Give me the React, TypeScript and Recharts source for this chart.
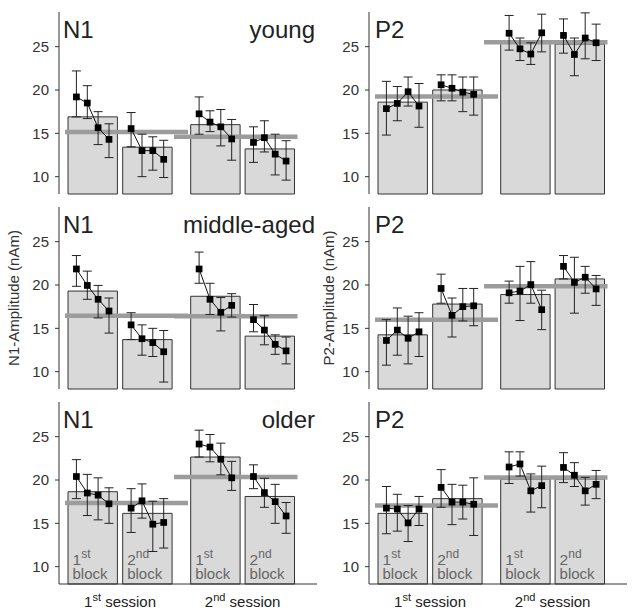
import { ComposedChart, Scatter, Line, XAxis, YAxis, ZAxis, ErrorBar, ReferenceArea } from 'recharts';

// ---- data (nAm) ----
const COMPONENTS = ['N1', 'P2'];
const GROUPS = ['young', 'middle-aged', 'older'];
const SESSION_LABELS = [['1', 'st', ' session'], ['2', 'nd', ' session']];
const BLOCK_LABELS = [['1', 'st', 'block'], ['2', 'nd', 'block'], ['1', 'st', 'block'], ['2', 'nd', 'block']];

const N1_YOUNG_BARS = [16.9, 13.4, 16.0, 13.2];
const N1_YOUNG_MEANS = [15.15, 14.6];
const N1_YOUNG_PTS = [[19.2, 18.5, 15.65, 14.3], [15.55, 13.0, 13.0, 12.0], [17.25, 16.3, 15.75, 14.35], [13.95, 14.5, 12.6, 11.8]];
const N1_YOUNG_HI = [[22.2, 20.5, 17.5, 16.1], [17.4, 14.9, 14.6, 14.2], [19.2, 17.6, 17.75, 16.6], [15.75, 16.45, 14.9, 14.15]];
const N1_YOUNG_LO = [[16.9, 16.7, 13.7, 12.2], [13.45, 10.0, 10.75, 9.9], [14.9, 15.2, 13.55, 11.9], [11.65, 12.85, 10.2, 9.6]];

const P2_YOUNG_BARS = [18.6, 20.0, 25.4, 25.3];
const P2_YOUNG_MEANS = [19.25, 25.5];
const P2_YOUNG_PTS = [[17.85, 18.45, 19.8, 18.15], [20.6, 20.2, 19.75, 19.5], [26.55, 24.75, 24.15, 26.6], [26.3, 24.1, 26.0, 25.45]];
const P2_YOUNG_HI = [[21.0, 20.4, 21.5, 20.75], [21.75, 21.75, 21.5, 21.5], [28.6, 26.0, 25.45, 28.75], [28.2, 26.0, 28.9, 27.6]];
const P2_YOUNG_LO = [[14.8, 16.45, 18.15, 15.7], [18.75, 18.75, 17.5, 17.1], [24.6, 23.4, 22.95, 24.4], [24.25, 21.65, 23.6, 23.4]];

const N1_MIDDLE_BARS = [19.3, 13.7, 18.7, 14.1];
const N1_MIDDLE_MEANS = [16.45, 16.4];
const N1_MIDDLE_PTS = [[21.85, 19.95, 18.35, 17.0], [15.4, 13.8, 13.35, 12.3], [21.85, 18.35, 16.85, 17.65], [16.0, 14.8, 13.15, 12.4]];
const N1_MIDDLE_HI = [[23.4, 21.6, 19.95, 18.5], [16.8, 15.4, 15.0, 14.75], [23.8, 20.2, 18.55, 19.0], [17.75, 16.45, 14.25, 14.0]];
const N1_MIDDLE_LO = [[19.85, 18.35, 16.2, 14.45], [13.7, 11.9, 11.75, 8.8], [20.2, 16.6, 14.7, 16.3], [14.6, 13.1, 12.0, 10.9]];

const P2_MIDDLE_BARS = [14.25, 17.8, 18.9, 20.7];
const P2_MIDDLE_MEANS = [16.0, 19.85];
const P2_MIDDLE_PTS = [[13.6, 14.8, 13.85, 14.6], [19.6, 16.5, 17.5, 17.6], [19.1, 19.3, 20.05, 17.15], [22.15, 20.3, 20.9, 19.55]];
const P2_MIDDLE_HI = [[16.0, 17.35, 16.4, 16.8], [21.25, 18.5, 19.6, 19.6], [20.45, 22.15, 22.7, 19.4], [23.4, 23.2, 22.15, 21.1]];
const P2_MIDDLE_LO = [[10.75, 11.9, 10.9, 11.75], [17.9, 14.0, 15.85, 15.3], [17.9, 15.9, 17.9, 14.85], [20.7, 16.75, 19.05, 17.65]];

const N1_OLDER_BARS = [18.65, 16.15, 22.65, 18.1];
const N1_OLDER_MEANS = [17.35, 20.35];
const N1_OLDER_PTS = [[20.4, 18.5, 18.25, 17.25], [16.75, 17.6, 14.9, 15.1], [24.15, 23.8, 22.4, 20.25], [20.4, 18.55, 17.5, 15.85]];
const N1_OLDER_HI = [[22.35, 20.65, 20.25, 19.1], [19.0, 19.55, 17.55, 17.85], [25.75, 25.25, 24.25, 22.15], [21.75, 20.2, 19.5, 17.4]];
const N1_OLDER_LO = [[17.85, 15.9, 15.4, 15.0], [13.95, 15.6, 11.75, 12.15], [22.65, 22.1, 20.6, 18.8], [19.0, 16.85, 15.0, 13.85]];

const P2_OLDER_BARS = [16.15, 17.85, 20.1, 20.1];
const P2_OLDER_MEANS = [17.05, 20.3];
const P2_OLDER_PTS = [[16.75, 16.65, 15.05, 16.65], [19.15, 17.45, 17.45, 17.2], [21.5, 21.85, 18.75, 19.35], [21.45, 20.55, 18.75, 19.5]];
const P2_OLDER_HI = [[19.25, 18.35, 17.05, 18.1], [21.2, 19.5, 19.4, 20.25], [23.25, 23.25, 20.7, 21.6], [23.15, 22.0, 20.3, 21.1]];
const P2_OLDER_LO = [[13.8, 14.1, 12.9, 14.75], [16.85, 14.85, 15.5, 13.6], [19.6, 20.45, 16.3, 16.8], [19.7, 19.25, 17.1, 17.85]];

const Y_TICKS = [10, 15, 20, 25];

// ---- layout (x in plot units, 1 unit = 1px) ----
const X_MAX = 258;
const BAR_CENTER = [33.7, 88.4, 156.4, 210.8];
const BAR_W = 49.4;
const PT_OFFSET = [-16.3, -5.4, 5.4, 16.3];
const MEAN_SPAN = [[6, 129], [115, 238.5]];
const SESSION_CENTER = [(BAR_CENTER[0] + BAR_CENTER[1]) / 2, (BAR_CENTER[2] + BAR_CENTER[3]) / 2];
const FONT = '"Liberation Sans", Arial, Helvetica, sans-serif';

const SessionTick = (props: any) => {
  const { x, y, payload } = props;
  const idx = payload && payload.value > X_MAX / 2 ? 1 : 0;
  const [a, sup, rest] = SESSION_LABELS[idx];
  return (
    <text x={x} y={y + 23} textAnchor="middle" fontSize={15} fill="#222">
      <tspan>{a}</tspan>
      <tspan dy={-6.5} fontSize={11}>{sup}</tspan>
      <tspan dy={6.5}>{rest}</tspan>
    </text>
  );
};

const blockLabel = (b: number) => (props: any) => {
  const vb = props.viewBox || {};
  const [a, sup, word] = BLOCK_LABELS[b];
  const x = vb.x + 4.5;
  const bottom = vb.y + vb.height;
  return (
    <g>
      <text x={x} y={bottom - 19} fontSize={15.5} fill="#666">
        <tspan>{a}</tspan>
        <tspan dy={-7.5} fontSize={12}>{sup}</tspan>
      </text>
      <text x={x} y={bottom - 4.7} fontSize={15} fill="#666">{word}</text>
    </g>
  );
};

interface PanelProps {
  bars: number[];
  means: number[];
  pts: number[][];
  hi: number[][];
  lo: number[][];
  bottom?: boolean;
  yLabel?: string;
  yLabelOffset?: number;
}

const Panel = ({ bars, means, pts, hi, lo, bottom, yLabel, yLabelOffset }: PanelProps) => {
  const blocks = pts.map((vals, b) =>
    vals.map((v, i) => ({ x: BAR_CENTER[b] + PT_OFFSET[i], y: v, err: [v - lo[b][i], hi[b][i] - v] }))
  );
  const meanLines = means.map((m, s) => [{ x: MEAN_SPAN[s][0], y: m }, { x: MEAN_SPAN[s][1], y: m }]);

  return (
    <ComposedChart
      width={320}
      height={bottom ? 224 : 195}
      margin={{ top: 12, right: 3, bottom: bottom ? 0 : 1, left: 0 }}
    >
      <XAxis
        type="number"
        dataKey="x"
        domain={[0, X_MAX]}
        allowDataOverflow
        ticks={bottom ? SESSION_CENTER : []}
        interval={0}
        tick={bottom ? <SessionTick /> : false}
        tickLine={false}
        tickSize={0}
        tickMargin={0}
        height={bottom ? 30 : 0}
        axisLine={{ stroke: '#333' }}
      />
      <YAxis
        type="number"
        dataKey="y"
        domain={[8, 29]}
        allowDataOverflow
        ticks={Y_TICKS}
        interval={0}
        width={59}
        tickSize={4}
        tickMargin={6}
        tick={{ fontSize: 15, fill: '#333' }}
        axisLine={{ stroke: '#333' }}
        tickLine={{ stroke: '#333' }}
        label={
          yLabel
            ? {
                value: yLabel,
                angle: -90,
                position: 'insideLeft',
                offset: yLabelOffset,
                style: { textAnchor: 'middle', fill: '#333', fontSize: 15 },
              }
            : undefined
        }
      />
      <ZAxis range={[45, 45]} />
      {bars.map((v, b) => (
        <ReferenceArea
          key={'bar' + b}
          x1={BAR_CENTER[b] - BAR_W / 2}
          x2={BAR_CENTER[b] + BAR_W / 2}
          y1={8}
          y2={v}
          fill="#d9d9d9"
          fillOpacity={1}
          stroke="#333"
          strokeWidth={1}
          label={bottom ? blockLabel(b) : undefined}
        />
      ))}
      {meanLines.map((d, s) => (
        <Line
          key={'mean' + s}
          data={d}
          dataKey="y"
          stroke="#9c9c9c"
          strokeWidth={4.5}
          dot={false}
          activeDot={false}
          isAnimationActive={false}
        />
      ))}
      {blocks.map((d, b) => (
        <Scatter
          key={'blk' + b}
          data={d}
          dataKey="y"
          shape="square"
          fill="#000"
          line={{ stroke: '#111', strokeWidth: 1 }}
          isAnimationActive={false}
        >
          <ErrorBar dataKey="err" direction="y" width={4.5} stroke="#222" strokeWidth={1} />
        </Scatter>
      ))}
    </ComposedChart>
  );
};

const PANELS = [
  { bars: N1_YOUNG_BARS, means: N1_YOUNG_MEANS, pts: N1_YOUNG_PTS, hi: N1_YOUNG_HI, lo: N1_YOUNG_LO },
  { bars: P2_YOUNG_BARS, means: P2_YOUNG_MEANS, pts: P2_YOUNG_PTS, hi: P2_YOUNG_HI, lo: P2_YOUNG_LO },
  { bars: N1_MIDDLE_BARS, means: N1_MIDDLE_MEANS, pts: N1_MIDDLE_PTS, hi: N1_MIDDLE_HI, lo: N1_MIDDLE_LO },
  { bars: P2_MIDDLE_BARS, means: P2_MIDDLE_MEANS, pts: P2_MIDDLE_PTS, hi: P2_MIDDLE_HI, lo: P2_MIDDLE_LO },
  { bars: N1_OLDER_BARS, means: N1_OLDER_MEANS, pts: N1_OLDER_PTS, hi: N1_OLDER_HI, lo: N1_OLDER_LO },
  { bars: P2_OLDER_BARS, means: P2_OLDER_MEANS, pts: P2_OLDER_PTS, hi: P2_OLDER_HI, lo: P2_OLDER_LO },
];

const COL_LEFT = [0, 310];
const ROW_H = 195;

export default function App() {
  return (
    <div style={{ position: 'absolute', left: 0, top: 0, width: 635, height: 614, background: '#fff', fontFamily: FONT }}>
      {PANELS.map((p, k) => {
        const row = Math.floor(k / 2);
        const col = k % 2;
        return (
          <div key={k} style={{ position: 'absolute', left: COL_LEFT[col], top: row * ROW_H }}>
            <Panel
              {...p}
              bottom={row === 2}
              yLabel={row === 1 ? `${COMPONENTS[col]}-Amplitude (nAm)` : undefined}
              yLabelOffset={col === 0 ? 14 : 19}
            />
          </div>
        );
      })}
      <svg width={635} height={614} style={{ position: 'absolute', left: 0, top: 0, pointerEvents: 'none' }}>
        {GROUPS.map((g, row) => (
          <g key={g}>
            <text x={COL_LEFT[0] + 63} y={row * ROW_H + 38.3} fontSize={24} fill="#222">{COMPONENTS[0]}</text>
            <text x={COL_LEFT[0] + 315} y={row * ROW_H + 38.3} fontSize={24} fill="#222" textAnchor="end">{g}</text>
            <text x={COL_LEFT[1] + 65} y={row * ROW_H + 38.3} fontSize={24} fill="#222">{COMPONENTS[1]}</text>
          </g>
        ))}
      </svg>
    </div>
  );
}
